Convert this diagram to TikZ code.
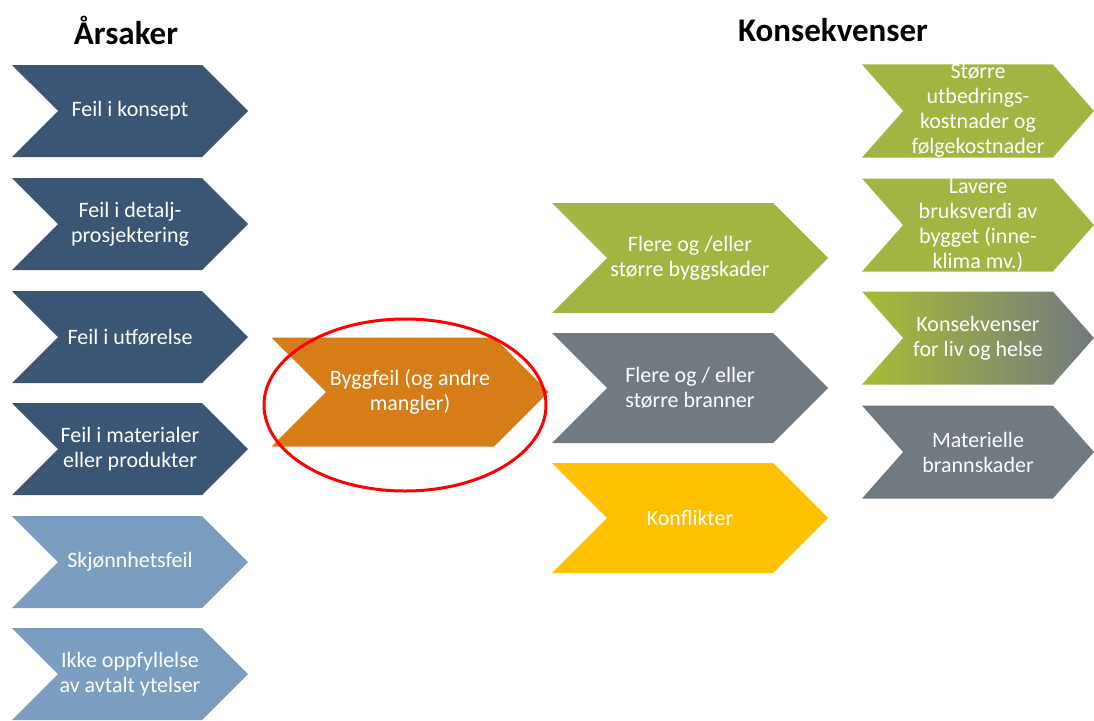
\documentclass[tikz,border=0pt]{standalone}
\usepackage{fontspec}
\setmainfont{Carlito}
\usepackage{tikz}
\usetikzlibrary{shapes.symbols, shapes.geometric}
\usepackage{xcolor}
\definecolor{darkblue}{HTML}{3B5575}
\definecolor{lightblue}{HTML}{7A9DC0}
\definecolor{orangebox}{HTML}{D77D18}
\definecolor{olive}{HTML}{A4B442}
\definecolor{olivebright}{HTML}{A9BC36}
\definecolor{greybox}{HTML}{717981}
\definecolor{yellowbox}{HTML}{FFC000}
\tikzset{
    chev/.style={signal, signal from=west, signal to=east, signal pointer angle=90,
        inner sep=0pt, draw=none, text=white, align=center,
        font=\fontsize{22}{25}\selectfont},
    cause/.style={chev, minimum width=236pt, minimum height=92pt},
    effect/.style={chev, minimum width=276pt, minimum height=110pt},
    result/.style={chev, signal pointer angle=97, minimum width=232pt, minimum height=93pt},
    heading/.style={font=\fontsize{33}{37}\selectfont\bfseries}
}

\begin{document}
\begin{tikzpicture}[x=1pt, y=-1pt]
        \useasboundingbox (0,0) rectangle (1094,720);
        \node[heading] (arsaker) at (126,30) {Årsaker};
        \node[heading] (konsekvenser) at (833,30) {Konsekvenser};
        \begin{scope}
            \node[cause, fill=darkblue] (c1) at (130,111) {Feil i konsept};
            \node[cause, fill=darkblue] (c2) at (130,224) {Feil i detalj-\\prosjektering};
            \node[cause, fill=darkblue] (c3) at (130,337) {Feil i utførelse};
            \node[cause, fill=darkblue] (c4) at (130,449) {Feil i materialer\\eller produkter};
            \node[cause, fill=lightblue] (c5) at (130,562) {Skjønnhetsfeil};
            \node[cause, fill=lightblue] (c6) at (130,674) {Ikke oppfyllelse\\av avtalt ytelser};
        \end{scope}
        \begin{scope}
            \node[effect, fill=orangebox, minimum width=277pt, minimum height=109pt] (bygg) at (410,392) {Byggfeil (og andre\\mangler)};
            \node[ellipse, draw=red, line width=3pt, minimum width=282pt, minimum height=172pt] (ring) at (405,405) {};
        \end{scope}
        \begin{scope}
            \node[effect, fill=olive] (e1) at (690,258) {Flere og /eller\\større byggskader};
            \node[effect, fill=greybox] (e2) at (690,388) {Flere og / eller\\større branner};
            \node[effect, fill=yellowbox] (e3) at (690,518) {Konflikter};
        \end{scope}
        \begin{scope}
            \node[result, fill=olive] (r1) at (978,111) {Større\\utbedrings-\\kostnader og\\følgekostnader};
            \node[result, fill=olive] (r2) at (978,225) {Lavere\\bruksverdi av\\bygget (inne-\\klima mv.)};
            \node[result, left color=olivebright, right color=greybox] (r3) at (978,338) {Konsekvenser\\for liv og helse};
            \node[result, fill=greybox] (r4) at (978,452) {Materielle\\brannskader};
        \end{scope}
    \end{tikzpicture}
\end{document}
